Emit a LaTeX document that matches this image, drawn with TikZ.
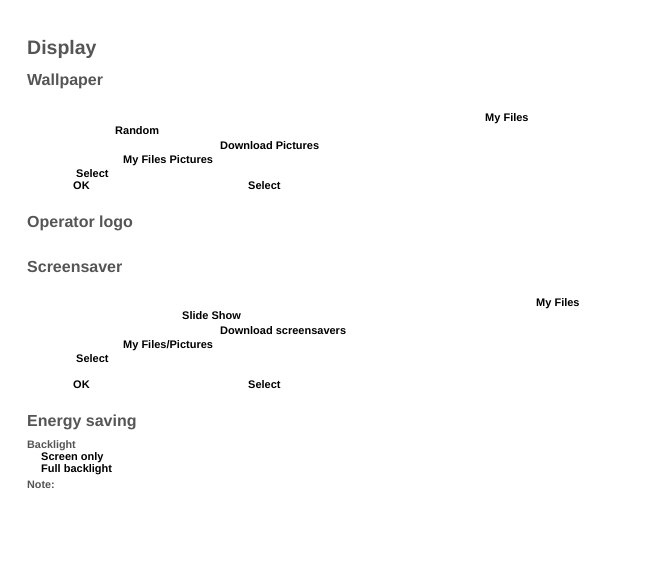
\documentclass[tikz,border=0pt]{standalone}
\usepackage{fontspec}
\setmainfont{Liberation Sans}
\definecolor{headgrey}{HTML}{555555}
\begin{document}
\begin{tikzpicture}[x=1pt,y=-1pt,
  every node/.style={anchor=west,inner sep=0pt},
  htitle/.style={text=headgrey,font=\fontsize{19.5}{22}\selectfont\bfseries},
  hsec/.style={text=headgrey,font=\fontsize{16}{19}\selectfont\bfseries},
  hsub/.style={text=headgrey,font=\fontsize{10.8}{12}\selectfont\bfseries},
  lbl/.style={text=black,font=\fontsize{11}{12}\selectfont\bfseries}]
\useasboundingbox[fill=white] (0,0) rectangle (668,586);
\node[htitle] (display) at (27,49.5) {Display};
\node[hsec] (wall) at (27,81) {Wallpaper};
\node[lbl] (wmyfiles) at (485,118.5) {My Files};
\node[lbl] (wrandom) at (115,131) {Random};
\node[lbl] (wdown) at (220,146) {Download Pictures};
\node[lbl] (wmfp) at (123,161) {My Files Pictures};
\node[lbl] (wsel1) at (76,174) {Select};
\node[lbl] (wok) at (73,186) {OK};
\node[lbl] (wsel2) at (248,186) {Select};
\node[hsec] (oplogo) at (27,223) {Operator logo};
\node[hsec] (scr) at (27,267) {Screensaver};
\node[lbl] (smyfiles) at (536,303.5) {My Files};
\node[lbl] (sslide) at (182,316) {Slide Show};
\node[lbl] (sdown) at (220,331) {Download screensavers};
\node[lbl] (smfp) at (123,346) {My Files/Pictures};
\node[lbl] (ssel1) at (76,359) {Select};
\node[lbl] (sok) at (73,385) {OK};
\node[lbl] (ssel2) at (248,385) {Select};
\node[hsec] (energy) at (27,422) {Energy saving};
\node[hsub] (back) at (27,446) {Backlight};
\node[lbl] (sonly) at (41,458) {Screen only};
\node[lbl] (full) at (41,470) {Full backlight};
\node[hsub] (note) at (27,485) {Note:};
\end{tikzpicture}
\end{document}
